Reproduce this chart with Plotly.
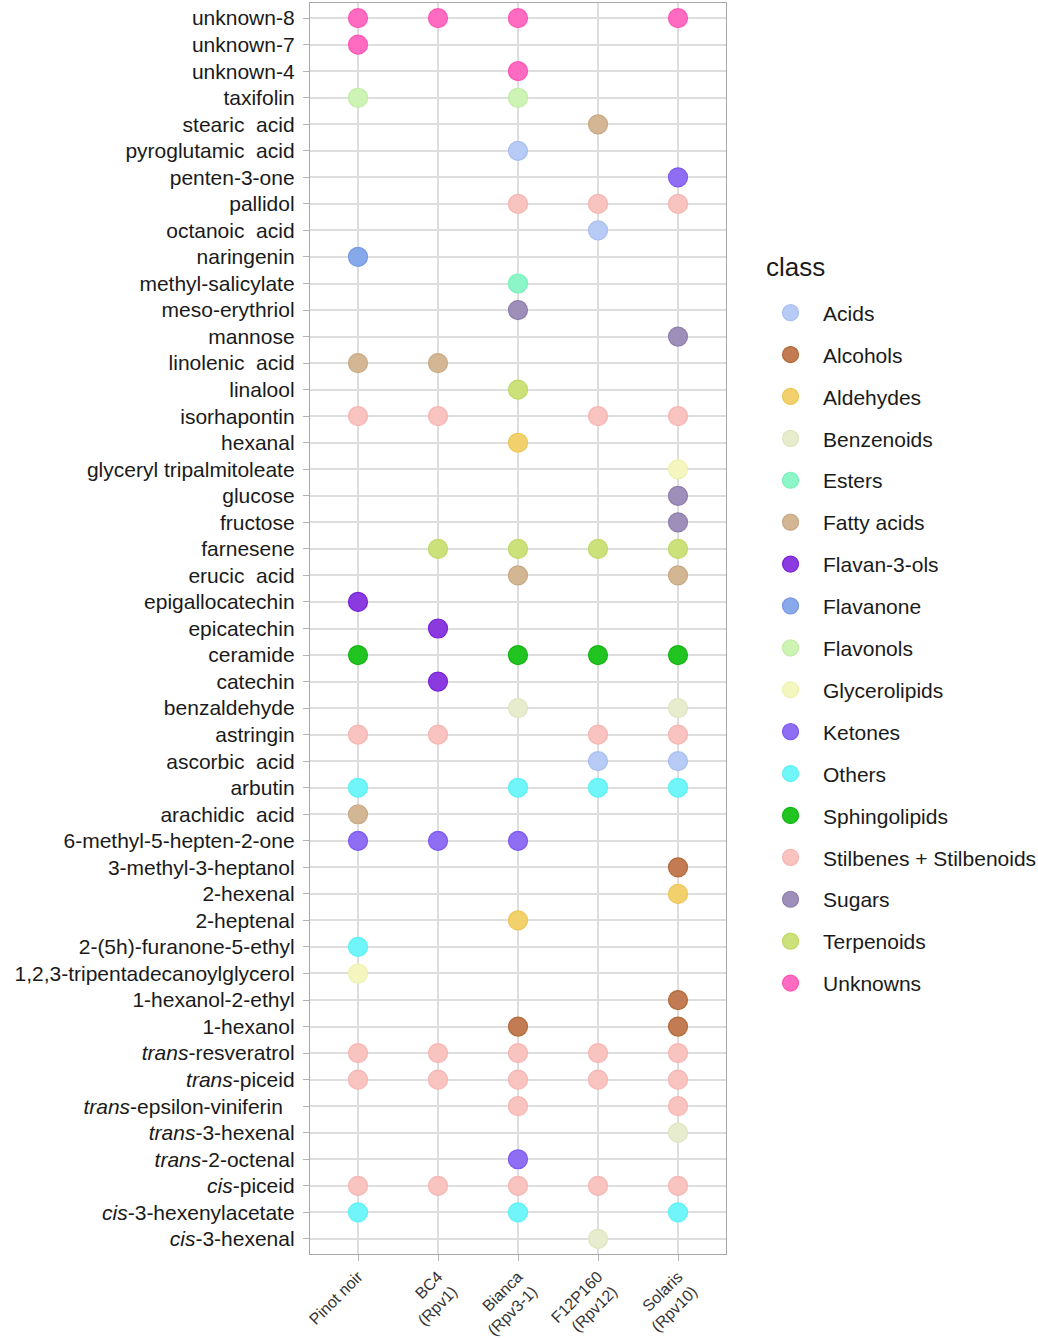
import plotly.graph_objects as go

compounds = [
    "unknown-8", "unknown-7", "unknown-4", "taxifolin", "stearic acid",
    "pyroglutamic acid", "penten-3-one", "pallidol", "octanoic acid", "naringenin",
    "methyl-salicylate", "meso-erythriol", "mannose", "linolenic acid", "linalool",
    "isorhapontin", "hexanal", "glyceryl tripalmitoleate", "glucose", "fructose",
    "farnesene", "erucic acid", "epigallocatechin", "epicatechin", "ceramide",
    "catechin", "benzaldehyde", "astringin", "ascorbic acid", "arbutin",
    "arachidic acid", "6-methyl-5-hepten-2-one", "3-methyl-3-heptanol", "2-hexenal",
    "2-heptenal", "2-(5h)-furanone-5-ethyl", "1,2,3-tripentadecanoylglycerol",
    "1-hexanol-2-ethyl", "1-hexanol", "trans-resveratrol", "trans-piceid",
    "trans-epsilon-viniferin", "trans-3-hexenal", "trans-2-octenal", "cis-piceid",
    "cis-3-hexenylacetate", "cis-3-hexenal",
]

compound_labels = [
    "unknown-8", "unknown-7", "unknown-4", "taxifolin", "stearic  acid",
    "pyroglutamic  acid", "penten-3-one", "pallidol", "octanoic  acid", "naringenin",
    "methyl-salicylate", "meso-erythriol", "mannose", "linolenic  acid", "linalool",
    "isorhapontin", "hexanal", "glyceryl tripalmitoleate", "glucose", "fructose",
    "farnesene", "erucic  acid", "epigallocatechin", "epicatechin", "ceramide",
    "catechin", "benzaldehyde", "astringin", "ascorbic  acid", "arbutin",
    "arachidic  acid", "6-methyl-5-hepten-2-one", "3-methyl-3-heptanol", "2-hexenal",
    "2-heptenal", "2-(5h)-furanone-5-ethyl", "1,2,3-tripentadecanoylglycerol",
    "1-hexanol-2-ethyl", "1-hexanol", "<i>trans</i>-resveratrol", "<i>trans</i>-piceid",
    "<i>trans</i>-epsilon-viniferin  ", "<i>trans</i>-3-hexenal", "<i>trans</i>-2-octenal",
    "<i>cis</i>-piceid", "<i>cis</i>-3-hexenylacetate", "<i>cis</i>-3-hexenal",
]

compound_class = [
    "Unknowns", "Unknowns", "Unknowns", "Flavonols", "Fatty acids",
    "Acids", "Ketones", "Stilbenes + Stilbenoids", "Acids", "Flavanone",
    "Esters", "Sugars", "Sugars", "Fatty acids", "Terpenoids",
    "Stilbenes + Stilbenoids", "Aldehydes", "Glycerolipids", "Sugars", "Sugars",
    "Terpenoids", "Fatty acids", "Flavan-3-ols", "Flavan-3-ols", "Sphingolipids",
    "Flavan-3-ols", "Benzenoids", "Stilbenes + Stilbenoids", "Acids", "Others",
    "Fatty acids", "Ketones", "Alcohols", "Aldehydes",
    "Aldehydes", "Others", "Glycerolipids",
    "Alcohols", "Alcohols", "Stilbenes + Stilbenoids", "Stilbenes + Stilbenoids",
    "Stilbenes + Stilbenoids", "Benzenoids", "Ketones", "Stilbenes + Stilbenoids",
    "Others", "Benzenoids",
]

# presence mask per compound: Pinot noir, BC4, Bianca, F12P160, Solaris
presence = [
    "11101", "10000", "00100", "10100", "00010",
    "00100", "00001", "00111", "00010", "10000",
    "00100", "00100", "00001", "11000", "00100",
    "11011", "00100", "00001", "00001", "00001",
    "01111", "00101", "10000", "01000", "10111",
    "01000", "00101", "11011", "00011", "10111",
    "10000", "11100", "00001", "00001",
    "00100", "10000", "10000",
    "00001", "00101", "11111", "11111",
    "00101", "00001", "00100", "11111",
    "10101", "00010",
]

cultivars = ["Pinot noir", "BC4 (Rpv1)", "Bianca (Rpv3-1)", "F12P160 (Rpv12)", "Solaris (Rpv10)"]
cultivar_labels = ["Pinot noir", "BC4<br>(Rpv1)", "Bianca<br>(Rpv3-1)", "F12P160<br>(Rpv12)", "Solaris<br>(Rpv10)"]

classes = [
    "Acids", "Alcohols", "Aldehydes", "Benzenoids", "Esters", "Fatty acids",
    "Flavan-3-ols", "Flavanone", "Flavonols", "Glycerolipids", "Ketones", "Others",
    "Sphingolipids", "Stilbenes + Stilbenoids", "Sugars", "Terpenoids", "Unknowns",
]
class_fill = [
    "#b8cbf6", "#c27b52", "#f2d16d", "#e8ecce", "#8cf6c8", "#d3b794",
    "#8b3ae0", "#87a9ea", "#cdf3b5", "#f4f6c0", "#8f6ef3", "#70f5f8",
    "#22c422", "#f9c3bf", "#9e8fba", "#cce17a", "#ff6bc0",
]
class_edge = [
    "#a8bdf2", "#b26838", "#ecc656", "#dfe4bf", "#76f1b8", "#c8a882",
    "#7a22d8", "#7598e4", "#bfeea3", "#eef1ac", "#7c58ee", "#5cf1f6",
    "#12b412", "#f5b4af", "#8d7dac", "#c0d866", "#ff55b5",
]

fig = go.Figure()
for cls, fill, edge in zip(classes, class_fill, class_edge):
    xs, ys = [], []
    for comp, c_cls, mask in zip(compounds, compound_class, presence):
        if c_cls != cls:
            continue
        for cult, flag in zip(cultivars, mask):
            if flag == "1":
                xs.append(cult)
                ys.append(comp)
    fig.add_trace(go.Scatter(
        x=xs, y=ys, mode="markers", name=cls, legendgroup=cls,
        marker=dict(size=19, color=fill, line=dict(color=edge, width=1.2)),
    ))

grid = "#dedede"
fig.update_layout(
    width=1038, height=1339,
    margin=dict(l=310, r=312, t=3, b=85, autoexpand=False),
    plot_bgcolor="white", paper_bgcolor="white",
    font=dict(family="Liberation Sans, Arial, sans-serif", color="#1a1a1a", size=21),
    showlegend=True,
    legend=dict(
        x=1.077, xanchor="left", y=0.7686, yanchor="top",
        font=dict(size=21), itemwidth=55, tracegroupgap=11.6,
        bgcolor="rgba(0,0,0,0)",
    ),
    annotations=[dict(
        text="class", xref="paper", yref="paper", x=1.0908, y=0.7887,
        xanchor="left", yanchor="middle", showarrow=False,
        font=dict(size=26, color="#1a1a1a"),
    )],
    xaxis=dict(
        type="category", categoryorder="array", categoryarray=cultivars,
        tickvals=cultivars, ticktext=cultivar_labels, tickangle=-45,
        range=[-0.6, 4.6], showgrid=True, gridcolor=grid, gridwidth=1.5,
        ticks="outside", ticklen=6, tickcolor="#b3b3b3", automargin=False,
        tickfont=dict(size=16, color="#333333"),
        showline=True, linecolor="#a8a8a8", mirror=True, linewidth=1.3, zeroline=False,
    ),
    yaxis=dict(
        type="category", categoryorder="array", categoryarray=compounds,
        tickvals=compounds, ticktext=compound_labels,
        range=[46.57, -0.57], showgrid=True, gridcolor=grid, gridwidth=1.5,
        ticks="outside", ticklen=6, tickcolor="#b3b3b3", automargin=False,
        ticklabelstandoff=4,
        tickfont=dict(size=21, color="#1a1a1a"),
        showline=True, linecolor="#a8a8a8", mirror=True, linewidth=1.3, zeroline=False,
    ),
)

fig.write_html(
    "out.html",
    config={"displayModeBar": False},
    post_script="document.body.style.margin='0';document.body.style.overflow='hidden';",
)
